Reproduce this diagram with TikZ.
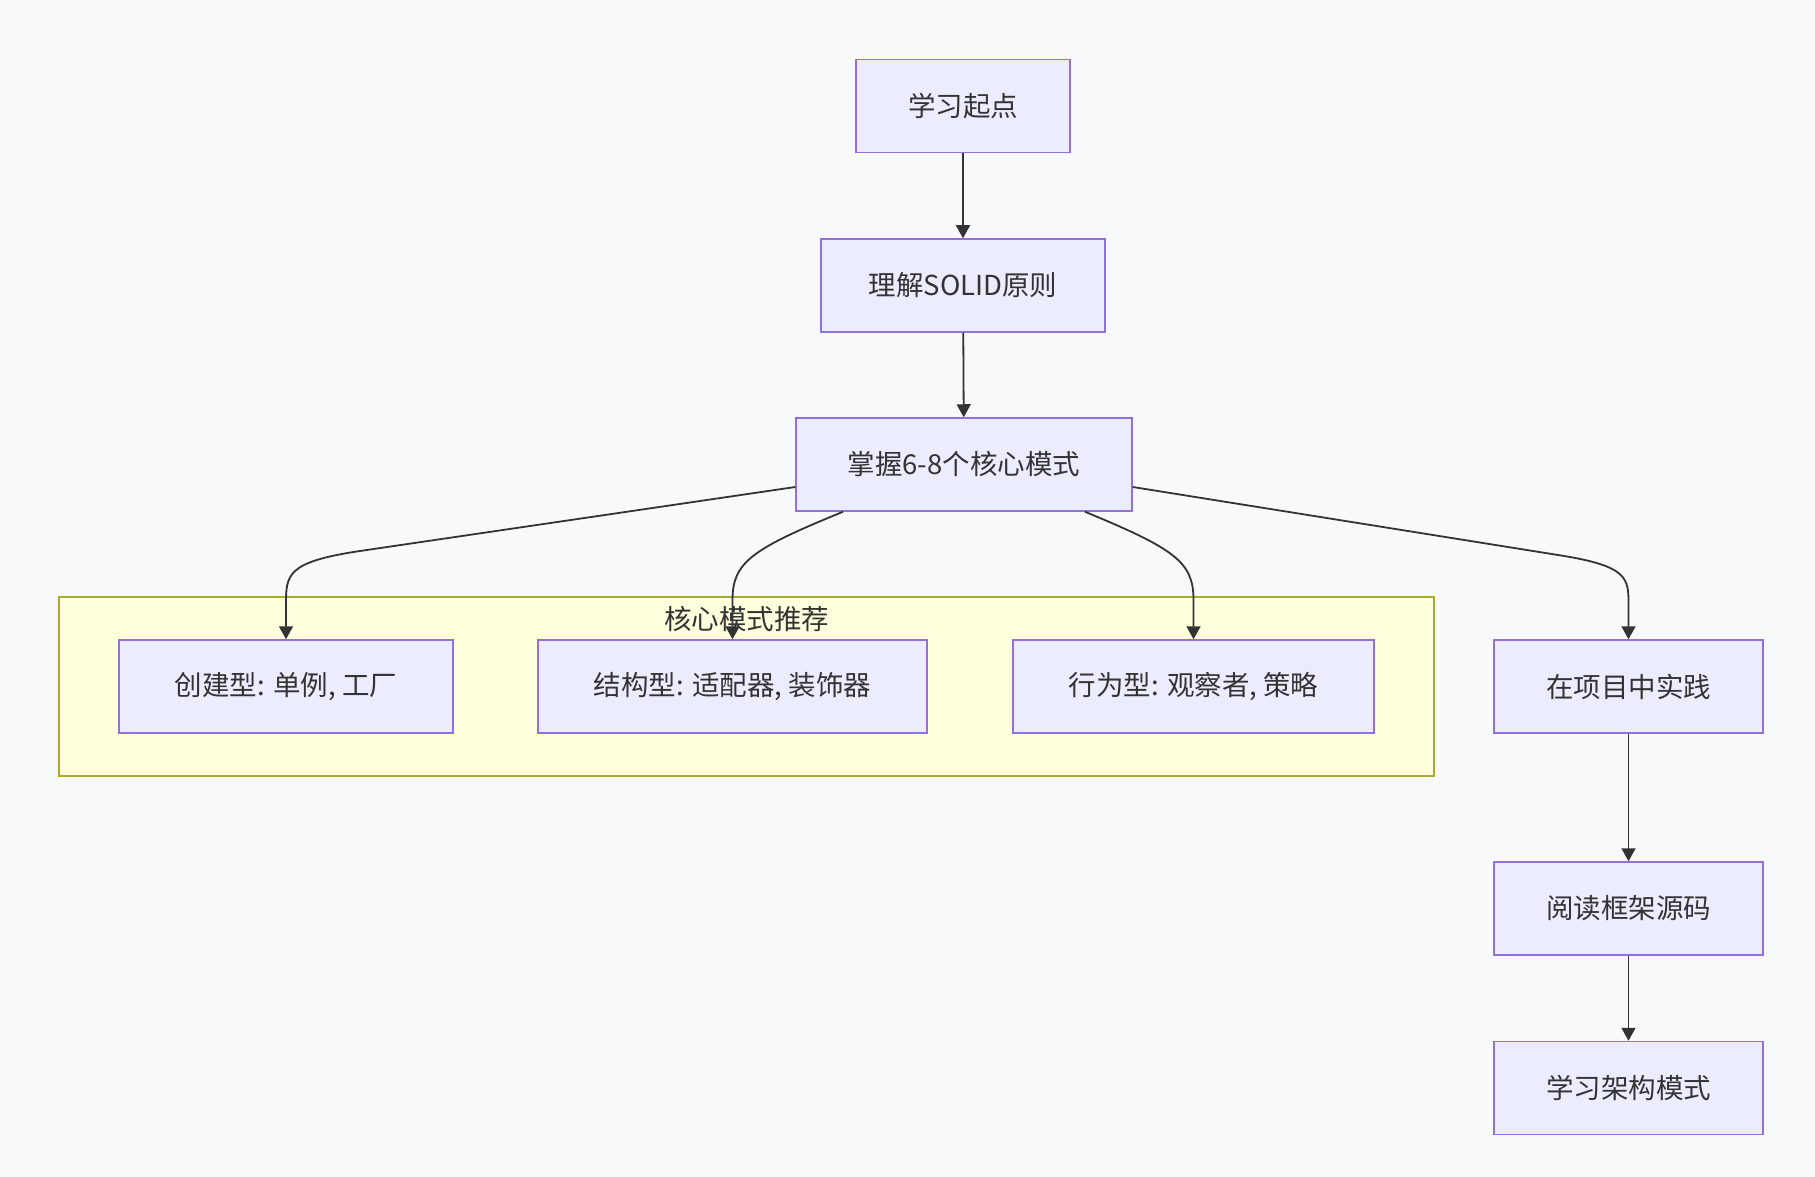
\documentclass[tikz,border=0pt]{standalone}
\usepackage{fontspec}
\setmainfont{Noto Sans CJK SC}
\usetikzlibrary{arrows.meta}
\definecolor{bgc}{HTML}{F8F9FB}
\definecolor{nodefill}{HTML}{ECECFF}
\definecolor{nodeline}{HTML}{9370DB}
\definecolor{clfill}{HTML}{FFFFDE}
\definecolor{clline}{HTML}{AAAA33}
\definecolor{txt}{HTML}{333333}
\tikzset{
  box/.style={rectangle, draw=nodeline, fill=nodefill, line width=1.5pt,
    minimum height=93pt, inner sep=0pt, text=txt,
    font=\fontsize{27.5}{32}\selectfont},
  edge/.style={draw=txt, line width=1.8pt,
    -{Triangle[length=13pt,width=14pt]}},
  cluster/.style={rectangle, draw=clline, fill=clfill, line width=1.5pt, inner sep=0pt},
  cllabel/.style={text=txt, font=\fontsize{27.5}{32}\selectfont, inner sep=0pt}
}
\begin{document}
\begin{tikzpicture}[x=1pt,y=-1pt]
\fill[bgc] (0,0) rectangle (1815,1177);
\useasboundingbox (0,0) rectangle (1815,1177);
% cluster
\node[cluster, minimum width=1375pt, minimum height=179pt] (cl) at (746.5,686.5) {};
\node[cllabel] (cllab) at (746.5,619) {核心模式推荐};
% nodes
\node[box, minimum width=214pt] (start) at (963,106) {\raisebox{-1pt}{学习起点}};
\node[box, minimum width=284pt] (solid) at (963,285.5) {\raisebox{-1pt}{理解SOLID原则}};
\node[box, minimum width=336pt] (core) at (964,464.5) {\raisebox{-1pt}{掌握6-8个核心模式}};
\node[box, minimum width=334pt] (cre) at (286,686.5) {\raisebox{-1pt}{创建型: 单例, 工厂}};
\node[box, minimum width=389pt] (str) at (732.5,686.5) {\raisebox{-1pt}{结构型: 适配器, 装饰器}};
\node[box, minimum width=361pt] (beh) at (1193.5,686.5) {\raisebox{-1pt}{行为型: 观察者, 策略}};
\node[box, minimum width=269pt] (prac) at (1628.5,686.5) {\raisebox{-1pt}{在项目中实践}};
\node[box, minimum width=269pt] (read) at (1628.5,908.5) {\raisebox{-1pt}{阅读框架源码}};
\node[box, minimum width=269pt] (arch) at (1628.5,1088) {\raisebox{-1pt}{学习架构模式}};
% edges
\draw[edge] (start) -- (solid);
\draw[edge] (solid) -- (core);
\draw[edge] ([yshift=-22.5pt]core.west) -- (360,551) .. controls (286,562) and (286,575) .. (286,605) -- (cre.north);
\draw[edge] ([xshift=-121pt]core.south) .. controls (752,549) and (732.5,562) .. (732.5,600) -- (str.north);
\draw[edge] ([xshift=121pt]core.south) .. controls (1175,549) and (1193.5,562) .. (1193.5,600) -- (beh.north);
\draw[edge] ([yshift=-22.5pt]core.east) -- (1558,555) .. controls (1628.5,566) and (1628.5,578) .. (1628.5,605) -- (prac.north);
\draw[edge] (prac) -- (read);
\draw[edge] (read) -- (arch);
\end{tikzpicture}
\end{document}
